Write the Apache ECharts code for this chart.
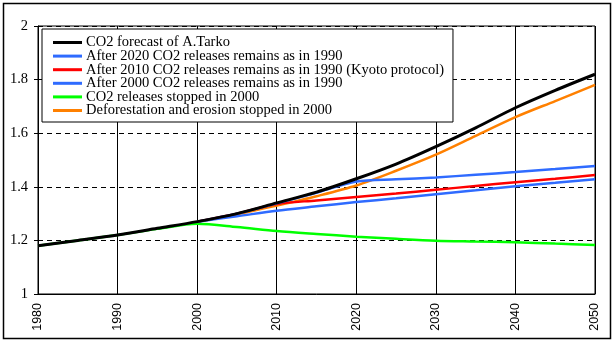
<!DOCTYPE html>
<html><head><meta charset="utf-8">
<script src="https://cdn.jsdelivr.net/npm/echarts@6/dist/echarts.min.js"></script>
<style>html,body{margin:0;padding:0;background:#fff}#c{width:615px;height:342px}</style>
</head><body><div id="c"></div>
<script>
const yearsFull = [1980,1985,1990,1995,2000,2005,2010,2015,2020,2025,2030,2035,2040,2045,2050];
const yearsFrom2000 = [2000,2005,2010,2015,2020,2025,2030,2035,2040,2045,2050];
const tarko = [1.18,1.20,1.22,1.245,1.27,1.30,1.34,1.38,1.43,1.485,1.55,1.62,1.695,1.76,1.82];
const after2020 = [1.27,1.30,1.338,1.378,1.42,1.428,1.435,1.445,1.455,1.466,1.478];
const after2010 = [1.27,1.30,1.336,1.349,1.362,1.375,1.389,1.403,1.417,1.43,1.444];
const after2000 = [1.27,1.29,1.311,1.327,1.343,1.357,1.372,1.387,1.402,1.415,1.428];
const stopped2000 = [1.18,1.20,1.22,1.243,1.262,1.25,1.235,1.224,1.214,1.206,1.199,1.196,1.193,1.188,1.183];
const deforest = [1.27,1.297,1.33,1.365,1.405,1.46,1.52,1.59,1.66,1.72,1.78];
const names = ['CO2 forecast of A.Tarko','After 2020 CO2 releases remains as in 1990','After 2010 CO2 releases remains as in 1990 (Kyoto protocol)','After 2000 CO2 releases remains as in 1990','CO2 releases stopped in 2000','Deforestation and erosion stopped in 2000'];
const colors = ['#000000','#2f6bff','#ff0000','#2f6bff','#00ff00','#ff8000'];
const FONT = '"Liberation Serif","Times New Roman",serif';
const SANS = '"Liberation Sans",Arial,sans-serif';
function pairs(xs, ys){ return xs.map((x,i)=>[x, ys[i]]); }
const seriesDefs = [
  {i:4, d:pairs(yearsFull, stopped2000)},
  {i:5, d:pairs(yearsFrom2000, deforest)},
  {i:3, d:pairs(yearsFrom2000, after2000)},
  {i:2, d:pairs(yearsFrom2000, after2010)},
  {i:1, d:pairs(yearsFrom2000, after2020)},
  {i:0, d:pairs(yearsFull, tarko)}
];
const chart = echarts.init(document.getElementById('c'), null, {renderer:'canvas'});
chart.setOption({
  animation:false,
  backgroundColor:'#fff',
  textStyle:{fontFamily:FONT},
  graphic:[{type:'rect', shape:{x:3.5,y:3.5,width:607,height:335}, style:{fill:'none', stroke:'#000', lineWidth:1.5}, z:-1}],
  grid:{left:38, right:20, top:26, bottom:48, show:true, borderColor:'#000', borderWidth:1, backgroundColor:'transparent'},
  legend:{
    left:42, top:29, orient:'vertical', backgroundColor:'#fff', borderColor:'#000', borderWidth:1,
    padding:[6,9,4,11], itemGap:-1.4, itemWidth:29, itemHeight:3, icon:'rect',
    textStyle:{fontFamily:FONT, fontSize:14.5, color:'#000', lineHeight:14, padding:[0,0,0,-1]},
    data:names.map((n,k)=>({name:n, icon:'rect', itemStyle:{color:colors[k]}}))
  },
  xAxis:{type:'value', min:1980, max:2050, interval:10,
    axisLine:{lineStyle:{color:'#000'}}, axisTick:{show:false},
    axisLabel:{rotate:90, margin:9, color:'#000', fontFamily:SANS, fontSize:12.5, formatter:v=>String(v)},
    splitLine:{show:true, lineStyle:{color:'#000', width:1, type:'solid'}}},
  yAxis:{type:'value', min:1, max:2, interval:0.2,
    axisLine:{show:true, lineStyle:{color:'#000'}}, axisTick:{show:true, inside:false, length:4, lineStyle:{color:'#000'}},
    axisLabel:{margin:10, color:'#000', fontFamily:FONT, fontSize:14.5},
    splitLine:{show:true, lineStyle:{color:'#000', width:1, type:[5,4]}}},
  series:seriesDefs.map(s=>({
    name:names[s.i], type:'line', data:s.d, showSymbol:false, symbol:'none', smooth:0.3,
    lineStyle:{color:colors[s.i], width:s.i===0?3:2.5}, itemStyle:{color:colors[s.i]}, z:2
  }))
});
</script></body></html>
